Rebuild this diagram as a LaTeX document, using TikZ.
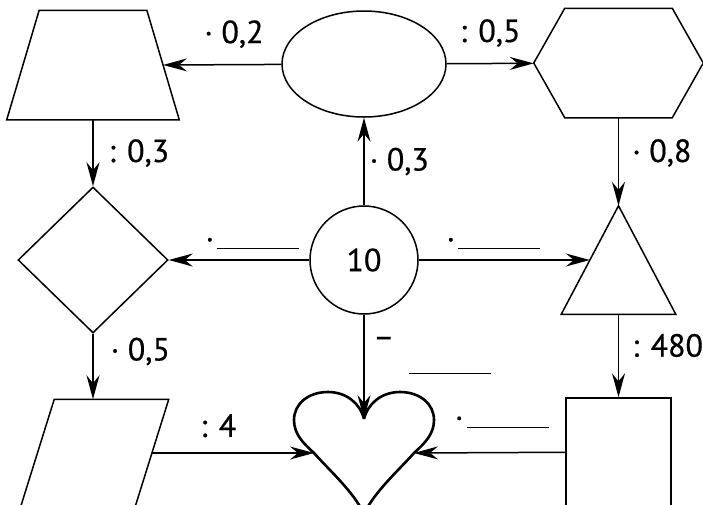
\documentclass[tikz,border=0pt]{standalone}
\usepackage{fontspec}
\setmainfont{PT Sans}[FakeBold=0.6]
\usetikzlibrary{arrows.meta,calc,positioning,shapes.geometric}
\newcommand{\fillgap}{\rule{82pt}{0.9pt}}

\begin{document}
\begin{tikzpicture}[x=1pt,y=-1pt,on grid,line width=1.5pt,
    every node/.style={font=\fontsize{32}{36}\selectfont},
    figure/.style={draw,inner sep=0pt},
    hull/.style={inner sep=0pt},
    lab/.style={inner sep=0pt},
    >={Stealth[length=24pt,width=13pt,inset=8pt]}]
   \useasboundingbox (0,0) rectangle (703,504);
   \clip (0,0) rectangle (703,504);
   \node[figure,circle,minimum size=108pt] (ring) at (364,260) {10};
   \node[figure,ellipse,minimum width=164pt,minimum height=106pt] (oval) [above=196pt of ring] {};
   \node[hull,minimum width=137pt,minimum height=122pt] (heart) [below=192pt of ring] {};
   \node[figure,diamond,minimum width=150pt,minimum height=146pt] (dia) [left=271pt of ring] {};
   \node[hull,minimum width=113pt,minimum height=107pt] (tri) [right=254.5pt of ring] {};
   \node[hull,minimum width=171pt,minimum height=108pt] (trap) [above=195pt of dia] {};
   \node[hull,minimum width=168pt,minimum height=108pt] (hexa) [above=197pt of tri] {};
   \node[hull,minimum width=146.6pt,minimum height=106pt] (para) [below=193pt of dia,xshift=1.7pt] {};
   \node[figure,minimum width=105pt,minimum height=108pt] (rect) [below=192pt of tri] {};
   % outlines of the drawn shapes
   \draw ([xshift=32.4pt]trap.north west) -- ([xshift=-32.4pt]trap.north east)
      -- (trap.south east) -- (trap.south west) -- cycle;
   \draw ([xshift=31pt]hexa.north west) -- ([xshift=-31pt]hexa.north east) -- (hexa.east)
      -- ([xshift=-31pt]hexa.south east) -- ([xshift=31pt]hexa.south west) -- (hexa.west) -- cycle;
   \draw (tri.north) -- (tri.south east) -- (tri.south west) -- cycle;
   \draw ([xshift=33.6pt]para.north west) -- (para.north east)
      -- ([xshift=-33.6pt]para.south east) -- (para.south west) -- cycle;
   \draw[line width=2.6pt,shift={(heart.center)}] (0,-33)
      .. controls (-4,-49) and (-18,-60) .. (-36,-60)
      .. controls (-56,-60) and (-70,-48) .. (-70,-32)
      .. controls (-70,-18) and (-61,-9) .. (-50,1)
      .. controls (-36,17) and (-10,40) .. (0,62)
      .. controls (10,40) and (36,17) .. (50,1)
      .. controls (61,-9) and (70,-18) .. (70,-32)
      .. controls (70,-48) and (56,-60) .. (36,-60)
      .. controls (18,-60) and (4,-49) .. (0,-33);
   \coordinate (trap-r) at ($(trap.east)+(-16.2,0)$);
   \coordinate (para-r) at ($(para.east)+(-16.8,0)$);
   \coordinate (para-t) at (dia |- para.north);
   \coordinate (tri-l) at ($(tri.north)!.5!(tri.south west)$);
   \coordinate (heart-t) at ($(heart.center)+(0,-33)$);
   \coordinate (heart-l) at ($(heart.center)+(-50,1)$);
   \coordinate (heart-r) at ($(heart.center)+(50,1)$);
    \path[->]
    (oval) edge node[lab,pos=0.4,above=16pt] {· 0,2} (trap-r)
           edge node[lab,pos=0.5,above=16pt] {: 0,5} (hexa)
    (trap) edge node[lab,right=15pt] {: 0,3} (dia)
    (hexa) edge node[lab,pos=0.4,right=13pt] {· 0,8} (tri)
    (ring) edge node[lab,right=5pt] {· 0,3} (oval)
           edge node[lab,pos=0.405,above=10pt] {·\hspace{3pt}\fillgap} (dia)
           edge node[lab,pos=0.436,above=10pt] {·\hspace{3pt}\fillgap} (tri-l)
           edge node[lab,pos=0.27,right=11pt] (minus) {−} (heart-t)
    (dia)  edge node[lab,pos=0.27,right=17pt] {· 0,5} (para-t)
    (tri)  edge node[lab,pos=0.376,right=13pt] {: 480} (rect)
    (para-r) edge node[lab,pos=0.41,above=15pt] {: 4} (heart-l)
    (rect) edge node[lab,pos=0.42,above=24pt] {·\hspace{3pt}\fillgap} (heart-r);
   \node[lab,anchor=base west] (gap) at (408,373.5) {\fillgap};
\end{tikzpicture}
\end{document}
